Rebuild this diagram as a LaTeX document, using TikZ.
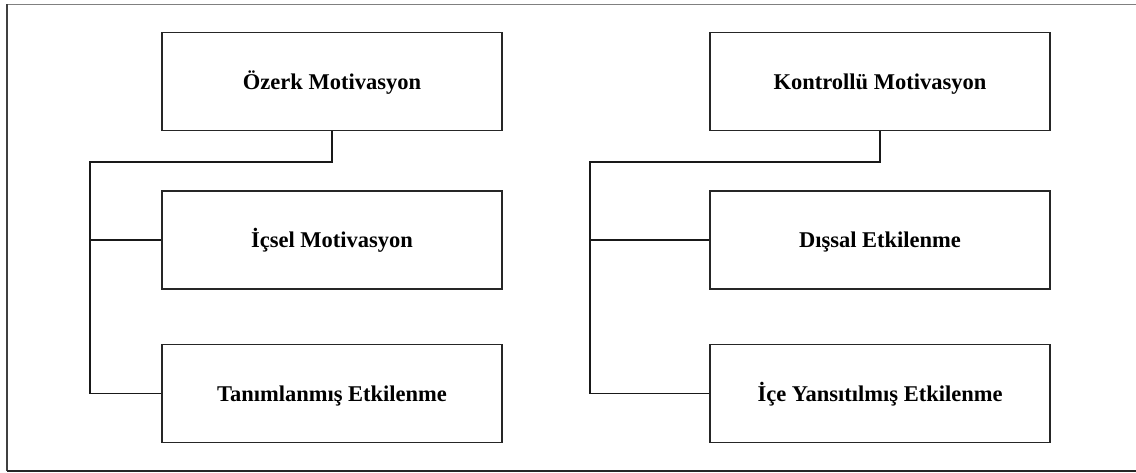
\documentclass[tikz,border=0pt]{standalone}
\usepackage{fontspec}
\setmainfont{Liberation Serif}
\begin{document}
\begin{tikzpicture}[x=1pt,y=-1pt,
  catbox/.style={draw=black!85,line width=1.8pt,minimum width=340pt,minimum height=98pt,
    inner sep=0pt,text height=18pt,text depth=2pt,
    font=\fontsize{22.5}{27}\selectfont\bfseries,text=black},
  link/.style={draw=black!90,line width=1.8pt}]
\useasboundingbox (0,0) rectangle (1136,473);
% outer frame (right edge lies beyond the page)
\draw[gray,line width=1.3pt] (7,4.5) -- (1140,4.5);
\draw[black!75,line width=1.6pt] (7,4.5) -- (7,471);
\draw[black!85,line width=1.8pt] (7,471) -- (1140,471);

% autonomous motivation
\node[catbox] (a0) at (332,81.5) {Özerk Motivasyon};
\node[catbox] (a1) at (332,240) {İçsel Motivasyon};
\node[catbox] (a2) at (332,393.5) {Tanımlanmış Etkilenme};
\coordinate (aj) at (90,161.7);
\draw[link] (a0.south) |- (aj) -- (aj |- a2.west) -- (a2.west);
\draw[link] (aj |- a1.west) -- (a1.west);

% controlled motivation
\node[catbox] (c0) at (880,81.5) {Kontrollü Motivasyon};
\node[catbox] (c1) at (880,240) {Dışsal Etkilenme};
\node[catbox] (c2) at (880,393.5) {İçe Yansıtılmış Etkilenme};
\coordinate (cj) at (590,161.7);
\draw[link] (c0.south) |- (cj) -- (cj |- c2.west) -- (c2.west);
\draw[link] (cj |- c1.west) -- (c1.west);
\end{tikzpicture}
\end{document}
